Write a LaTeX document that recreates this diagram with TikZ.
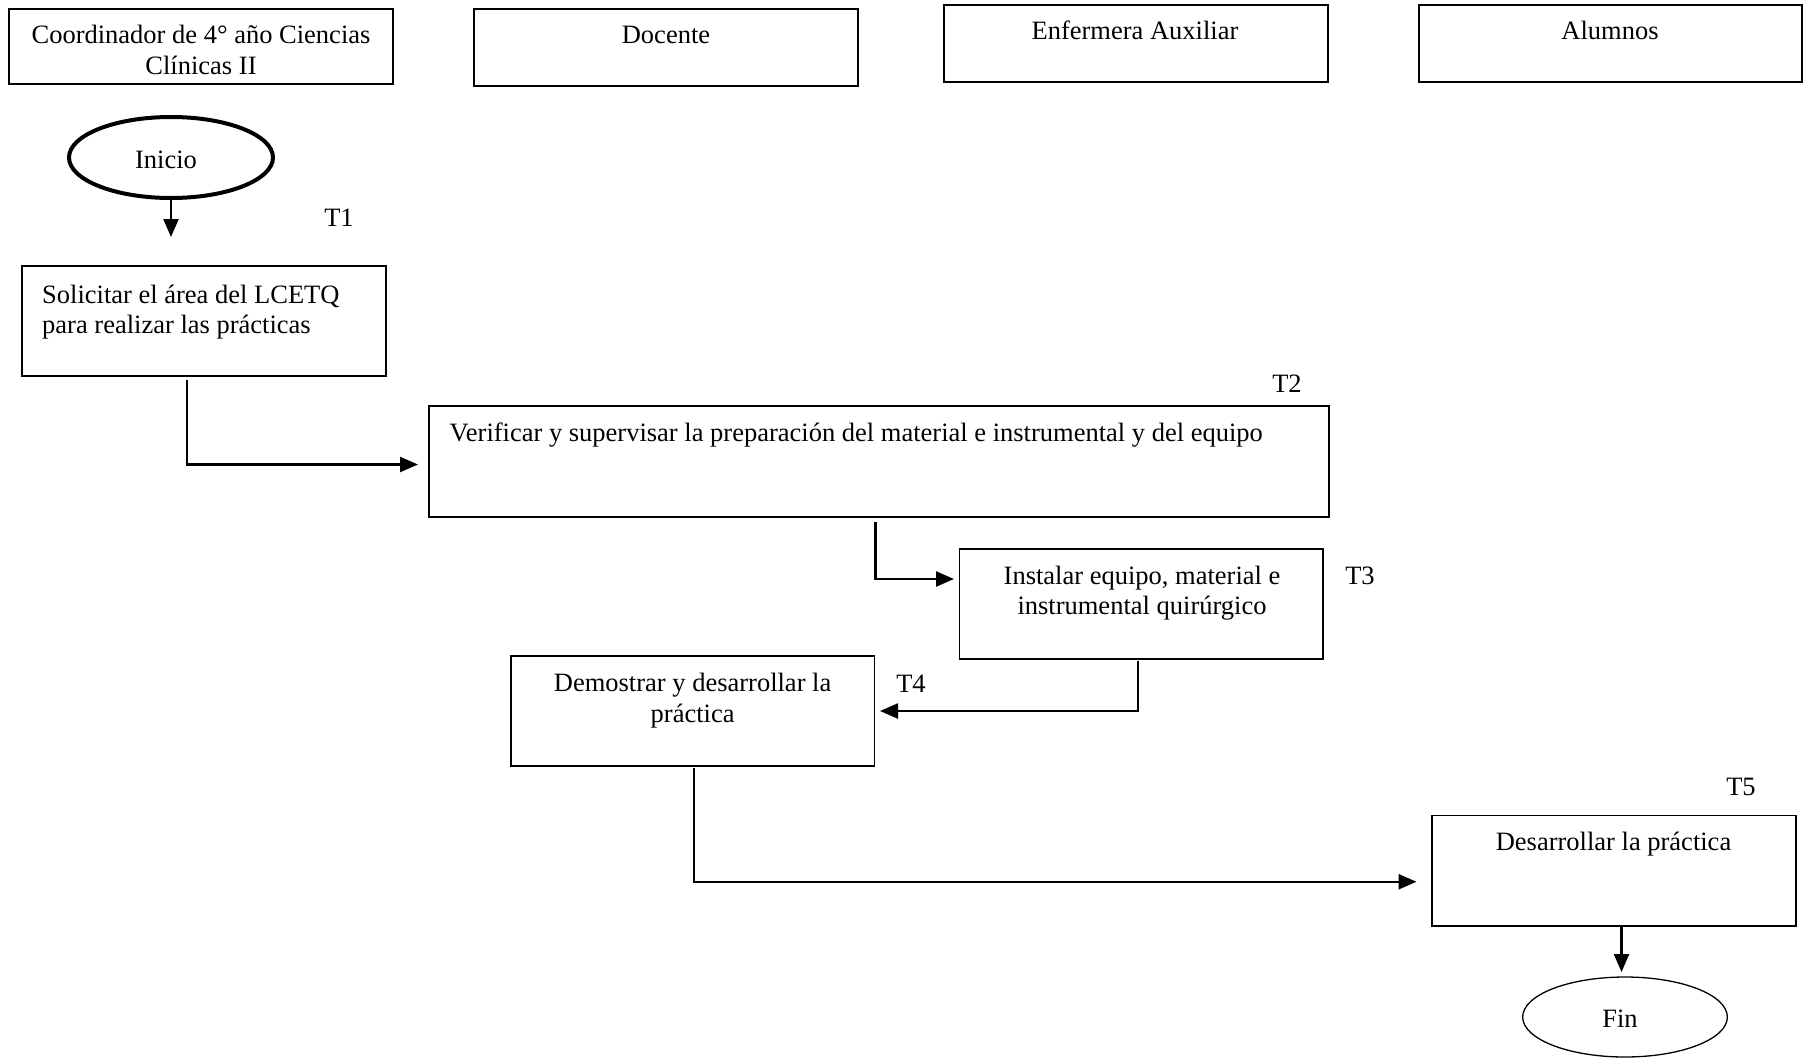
\documentclass[tikz,border=0pt]{standalone}
\usepackage{fontspec}
\setmainfont{Liberation Serif}
\usetikzlibrary{arrows.meta,calc,shapes.geometric}
\tikzset{
  box/.style={draw, line width=1.3pt, inner sep=0pt, outer sep=0pt, anchor=north west},
  txt/.style={inner sep=0pt, anchor=base, font=\fontsize{26.5}{30.5}\selectfont, align=center},
  txtl/.style={txt, anchor=base west, align=left},
  conn/.style={line width=2.4pt},
  arr/.style={conn, -{Triangle[length=18pt,width=15pt]}},
  term/.style={draw, ellipse, inner sep=0pt, outer sep=0pt},
}
\begin{document}
\begin{tikzpicture}[x=1pt,y=-1pt]
\useasboundingbox (0,0) rectangle (1804,1058);

% headers
\node[box, minimum width=384pt, minimum height=75pt] (h1) at (9,9) {};
\node[box, minimum width=384pt, minimum height=77pt] (h2) at (474,9) {};
\node[box, minimum width=384pt, minimum height=77pt] (h3) at (944,5) {};
\node[box, minimum width=383pt, minimum height=77pt] (h4) at (1419,5) {};
% (multi-line nodes: base anchor is the baseline of the last line)
\node[txt] (h1t) at (201,74) {Coordinador de 4° año Ciencias\\Clínicas II};
\node[txt] (h2t) at (666,43) {Docente};
\node[txt] (h3t) at (1135,39.5) {Enfermera Auxiliar};
\node[txt] (h4t) at (1610,39.5) {Alumnos};

% start
\node[term, line width=4pt, minimum width=204pt, minimum height=81pt] (inicio) at (171,157.5) {};
\node[txt] (iniciot) at (166,168) {Inicio};
\coordinate (a1) at (171,237);
\draw[arr] (inicio.south) -- (a1);
\node[txt] (t1) at (339,226.5) {T1};

% T1 box
\node[box, minimum width=364pt, minimum height=110pt] (s1) at (22,266) {};
\node[txtl] (s1t) at (42,333.5) {Solicitar el área del LCETQ\\para realizar las prácticas};

% T2 box
\node[box, minimum width=900pt, minimum height=111pt] (verif) at (429,406) {};
\node[txtl] (verift) at (449.5,441.5) {Verificar y supervisar la preparación del material e instrumental y del equipo};
\node[txt] (t2) at (1287,392) {T2};
\draw[arr, shorten <=3.5pt, shorten >=11pt] ([xshift=-17pt]s1.south) |- ([yshift=-3pt]verif.west);

% T3 box
\node[box, minimum width=363.5pt, minimum height=110pt] (inst) at (959.5,549) {};
\node[txt] (instt) at (1142,614.5) {Instalar equipo, material e\\instrumental quirúrgico};
\node[txt] (t3) at (1360,584) {T3};
\draw[arr, shorten <=4.5pt, shorten >=5.5pt] ([xshift=-3.5pt]verif.south) |- ([yshift=25pt]inst.west);

% T4 box
\node[box, minimum width=363.5pt, minimum height=110pt] (demo) at (511,656) {};
\node[txt] (demot) at (692.6,722) {Demostrar y desarrollar la\\práctica};
\node[txt] (t4) at (911,692) {T4};
\draw[arr, shorten <=2pt, shorten >=5.5pt] ([xshift=-3pt]inst.south) |- (demo.east);

% T5 box
\node[box, minimum width=364pt, minimum height=110.5pt] (des) at (1432,815.5) {};
\node[txt] (dest) at (1613.5,850) {Desarrollar la práctica};
\node[txt] (t5) at (1741,795) {T5};
\draw[arr, shorten <=2pt, shorten >=15.5pt] ([xshift=1pt]demo.south) |- ([yshift=-11pt]des.west);

% end
\node[term, line width=1.3pt, minimum width=204.7pt, minimum height=80pt] (fin) at (1625,1017) {};
\node[txt] (fint) at (1620,1027) {Fin};
\draw[arr, shorten >=5pt] ([xshift=7.5pt]des.south) -- ([xshift=7.5pt]des.south |- fin.north);
\end{tikzpicture}
\end{document}
